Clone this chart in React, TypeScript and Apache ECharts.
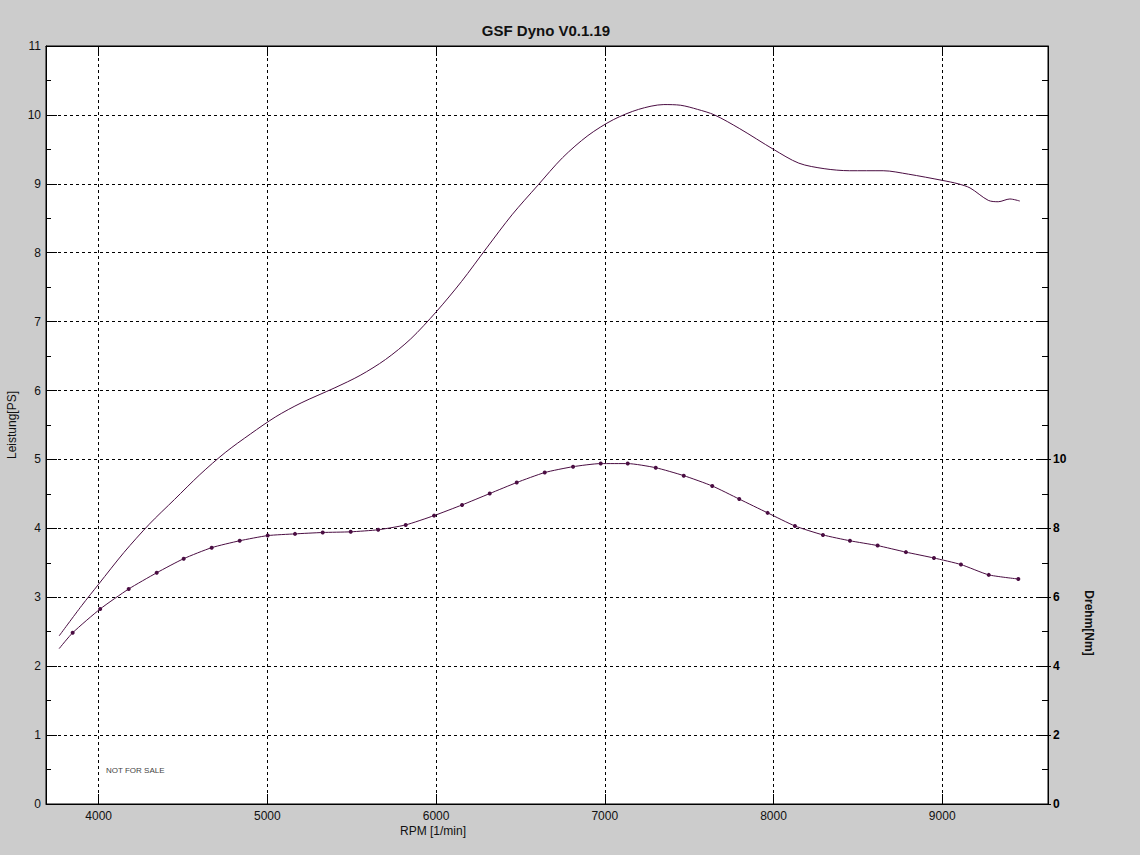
import React, { useEffect, useRef } from "react";
import * as echarts from "echarts";

const chartTitle = "GSF Dyno V0.1.19";
const xAxisName = "RPM [1/min]";
const leftAxisName = "Leistung[PS]";
const rightAxisName = "Drehm[Nm]";
const watermark = "NOT FOR SALE";

const rpmTickValues = [4000, 5000, 6000, 7000, 8000, 9000];
const nmLabelValues = [0, 2, 4, 6, 8, 10];

const powerRpm = [
  3766, 3900, 4000, 4150, 4300, 4450, 4600, 4750, 4900, 5050, 5200, 5400, 5550, 5700,
  5850, 6000, 6150, 6300, 6450, 6600, 6750, 6900, 7050, 7200, 7350, 7450, 7550, 7650,
  7800, 8000, 8150, 8300, 8450, 8650, 8800, 9000, 9095, 9165, 9273, 9332, 9401, 9460,
];
const powerPS = [
  2.44, 2.88, 3.19, 3.65, 4.06, 4.42, 4.78, 5.1, 5.37, 5.62, 5.82, 6.04, 6.22, 6.45,
  6.75, 7.14, 7.58, 8.07, 8.55, 8.97, 9.38, 9.7, 9.93, 10.08, 10.15, 10.14, 10.08, 10.0,
  9.8, 9.5, 9.3, 9.22, 9.19, 9.19, 9.14, 9.05, 9.0, 8.94, 8.76, 8.74, 8.78, 8.75,
];

const torqueRpm = [
  3766, 3846, 4009, 4178, 4344, 4504, 4670, 4836, 5002, 5164, 5328, 5494, 5657, 5820,
  5988, 6154, 6318, 6478, 6644, 6812, 6976, 7136, 7302, 7468, 7637, 7797, 7965, 8127,
  8293, 8453, 8617, 8785, 8951, 9111, 9276, 9451,
];
const torqueNm = [
  4.51, 4.97, 5.66, 6.24, 6.71, 7.12, 7.44, 7.64, 7.79, 7.84, 7.88, 7.9, 7.96, 8.1,
  8.37, 8.68, 9.01, 9.33, 9.62, 9.79, 9.88, 9.88, 9.76, 9.53, 9.23, 8.85, 8.45, 8.07,
  7.81, 7.64, 7.5, 7.31, 7.14, 6.95, 6.65, 6.53,
];
const torqueMarked = torqueRpm.map((_, i) => i > 0);

const X_MIN = 3688;
const X_MAX = 9627;
const LINE_COLOR = "#4a0d42";
const FONT = "'Liberation Sans', Arial, sans-serif";

export default function App() {
  const ref = useRef<HTMLDivElement>(null);

  useEffect(() => {
    if (!ref.current) return;
    const chart = echarts.init(ref.current, null, { renderer: "svg" });

    const powerData = powerRpm.map((r, i) => [r, powerPS[i]]);
    const torqueData = torqueRpm.map((r, i) =>
      torqueMarked[i] ? { value: [r, torqueNm[i]] } : { value: [r, torqueNm[i]], symbol: "none" }
    );

    const dashed = { show: true, lineStyle: { color: "#000", type: [3, 3], width: 1 } };
    const axisLine = { show: true, onZero: false, lineStyle: { color: "#000", width: 1 } };

    chart.setOption({
      animation: false,
      backgroundColor: "#cccccc",
      textStyle: { fontFamily: FONT },
      grid: {
        left: 46,
        right: 92,
        top: 46,
        bottom: 51,
        show: true,
        backgroundColor: "#ffffff",
        borderColor: "#000",
        borderWidth: 1,
      },
      xAxis: [
        {
          type: "value",
          min: X_MIN,
          max: X_MAX,
          splitNumber: 6,
          position: "bottom",
          axisLine,
          axisTick: {
            show: true,
            inside: true,
            length: 10,
            lineStyle: { color: "#000" },
            customValues: rpmTickValues,
          },
          axisLabel: {
            show: true,
            color: "#111",
            fontSize: 12,
            fontFamily: FONT,
            margin: 6,
            customValues: rpmTickValues,
            formatter: (v: number) => String(v),
          },
          splitLine: dashed,
        },
        {
          type: "value",
          min: X_MIN,
          max: X_MAX,
          splitNumber: 6,
          position: "top",
          axisLine,
          axisTick: {
            show: true,
            inside: true,
            length: 10,
            lineStyle: { color: "#000" },
            customValues: rpmTickValues,
          },
          axisLabel: { show: false },
          splitLine: { show: false },
        },
      ],
      yAxis: [
        {
          type: "value",
          min: 0,
          max: 11,
          interval: 1,
          position: "left",
          axisLine,
          axisTick: { show: true, inside: true, length: 11, lineStyle: { color: "#000" } },
          minorTick: { show: true, splitNumber: 2, length: 5, lineStyle: { color: "#000" } },
          axisLabel: { color: "#111", fontSize: 12, fontFamily: FONT, margin: 5 },
          splitLine: dashed,
        },
        {
          type: "value",
          min: 0,
          max: 22,
          interval: 2,
          position: "right",
          axisLine,
          axisTick: { show: true, inside: true, length: 11, lineStyle: { color: "#000" } },
          minorTick: { show: true, splitNumber: 2, length: 6, lineStyle: { color: "#000" } },
          axisLabel: {
            color: "#000",
            fontSize: 12,
            fontWeight: "bold",
            fontFamily: FONT,
            margin: 5,
            customValues: nmLabelValues,
          },
          splitLine: { show: false },
        },
        {
          type: "value",
          min: 0,
          max: 22,
          interval: 2,
          position: "right",
          axisLine: { show: false, onZero: false },
          axisTick: {
            show: true,
            inside: false,
            length: 3,
            lineStyle: { color: "#000" },
            customValues: nmLabelValues,
          },
          axisLabel: { show: false },
          splitLine: { show: false },
        },
      ],
      graphic: [
        {
          type: "text",
          x: 546,
          y: 30,
          style: {
            text: chartTitle,
            fontSize: 15,
            fontWeight: "bold",
            fontFamily: FONT,
            fill: "#111",
            textAlign: "center",
            textVerticalAlign: "middle",
          },
        },
        {
          type: "text",
          x: 433,
          y: 831,
          style: {
            text: xAxisName,
            fontSize: 12,
            fontFamily: FONT,
            fill: "#111",
            textAlign: "center",
            textVerticalAlign: "middle",
          },
        },
        {
          type: "text",
          x: 12,
          y: 425,
          rotation: Math.PI / 2,
          style: {
            text: leftAxisName,
            fontSize: 12,
            fontFamily: FONT,
            fill: "#111",
            textAlign: "center",
            textVerticalAlign: "middle",
          },
        },
        {
          type: "text",
          x: 1089,
          y: 623,
          rotation: -Math.PI / 2,
          style: {
            text: rightAxisName,
            fontSize: 12,
            fontWeight: "bold",
            fontFamily: FONT,
            fill: "#111",
            textAlign: "center",
            textVerticalAlign: "middle",
          },
        },
        {
          type: "text",
          x: 106,
          y: 770,
          style: {
            text: watermark,
            fontSize: 8,
            fontFamily: FONT,
            fill: "#444",
            textAlign: "left",
            textVerticalAlign: "middle",
          },
        },
      ],
      series: [
        {
          name: "Leistung",
          type: "line",
          xAxisIndex: 0,
          yAxisIndex: 0,
          data: powerData,
          smooth: 0.3,
          showSymbol: false,
          symbol: "none",
          lineStyle: { color: LINE_COLOR, width: 1 },
          itemStyle: { color: LINE_COLOR },
        },
        {
          name: "Drehmoment",
          type: "line",
          xAxisIndex: 0,
          yAxisIndex: 1,
          data: torqueData,
          smooth: 0.2,
          showSymbol: true,
          symbol: "circle",
          symbolSize: 4,
          lineStyle: { color: LINE_COLOR, width: 1 },
          itemStyle: { color: LINE_COLOR },
        },
      ],
    });

    return () => chart.dispose();
  }, []);

  return (
    <div
      ref={ref}
      style={{ position: "fixed", left: 0, top: 0, width: 1140, height: 855 }}
    />
  );
}
